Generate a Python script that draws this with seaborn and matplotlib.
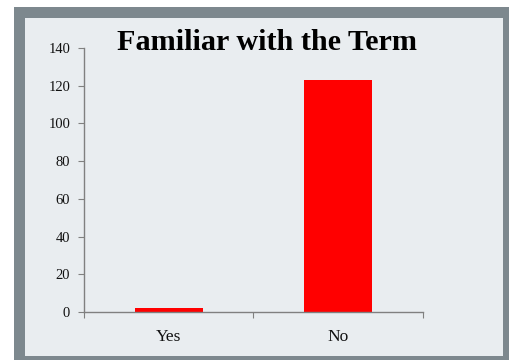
import matplotlib
matplotlib.use("Agg")
import matplotlib.pyplot as plt
from matplotlib.patches import Rectangle
import seaborn as sns
import pandas as pd

answers = ["Yes", "No"]
counts = [2, 123]
y_ticks = [0, 20, 40, 60, 80, 100, 120, 140]

sns.set_theme(style="white")
plt.rcParams["font.family"] = ["Liberation Serif", "DejaVu Serif"]

W, H = 510, 360
fig = plt.figure(figsize=(W / 100, H / 100), dpi=100)
fig.patch.set_facecolor("white")

# slide frame and panel
fig.patches.append(Rectangle((14 / W, 0), 1 - 14 / W, 1 - 7 / H,
                             transform=fig.transFigure, facecolor="#7d888e",
                             edgecolor="none", zorder=-2))
fig.patches.append(Rectangle((25 / W, 4 / H), (503 - 25) / W, (356 - 18) / H,
                             transform=fig.transFigure, facecolor="#e9edf0",
                             edgecolor="none", zorder=-1))

ax = fig.add_axes([84 / W, 1 - 312 / H, (423 - 84) / W, (312 - 48) / H])
ax.set_zorder(2)
ax.set_facecolor("none")

df = pd.DataFrame({"answer": answers, "count": counts})
sns.barplot(data=df, x="answer", y="count", color="#ff0000", saturation=1,
            width=0.4, ax=ax, edgecolor="none")

ax.set_xlim(-0.5, 1.5)
ax.set_ylim(0, 140)
ax.set_yticks(y_ticks)
ax.set_yticklabels([str(v) for v in y_ticks], fontsize=10.5, color="#111111")

ax.set_xticks([-0.5, 0.5, 1.5])
ax.set_xticklabels(["", "", ""])
ax.set_xticks([0, 1], minor=True)
ax.set_xticklabels(answers, minor=True, fontsize=12.5, color="#111111")
ax.tick_params(axis="x", which="minor", length=0, pad=12, bottom=True)
ax.tick_params(axis="x", which="major", length=4, width=0.8, color="#808080", bottom=True)
ax.tick_params(axis="y", length=4, width=0.8, color="#808080", pad=6, left=True)

ax.set_xlabel("")
ax.set_ylabel("")
for s in ["top", "right"]:
    ax.spines[s].set_visible(False)
for s in ["left", "bottom"]:
    ax.spines[s].set_color("#808080")
    ax.spines[s].set_linewidth(1.0)

fig.text(267 / W, 1 - 43 / H, "Familiar with the Term", ha="center", va="center",
         fontsize=21.7, fontweight="bold", color="black", zorder=3)

fig.savefig("out.png", dpi=100)
